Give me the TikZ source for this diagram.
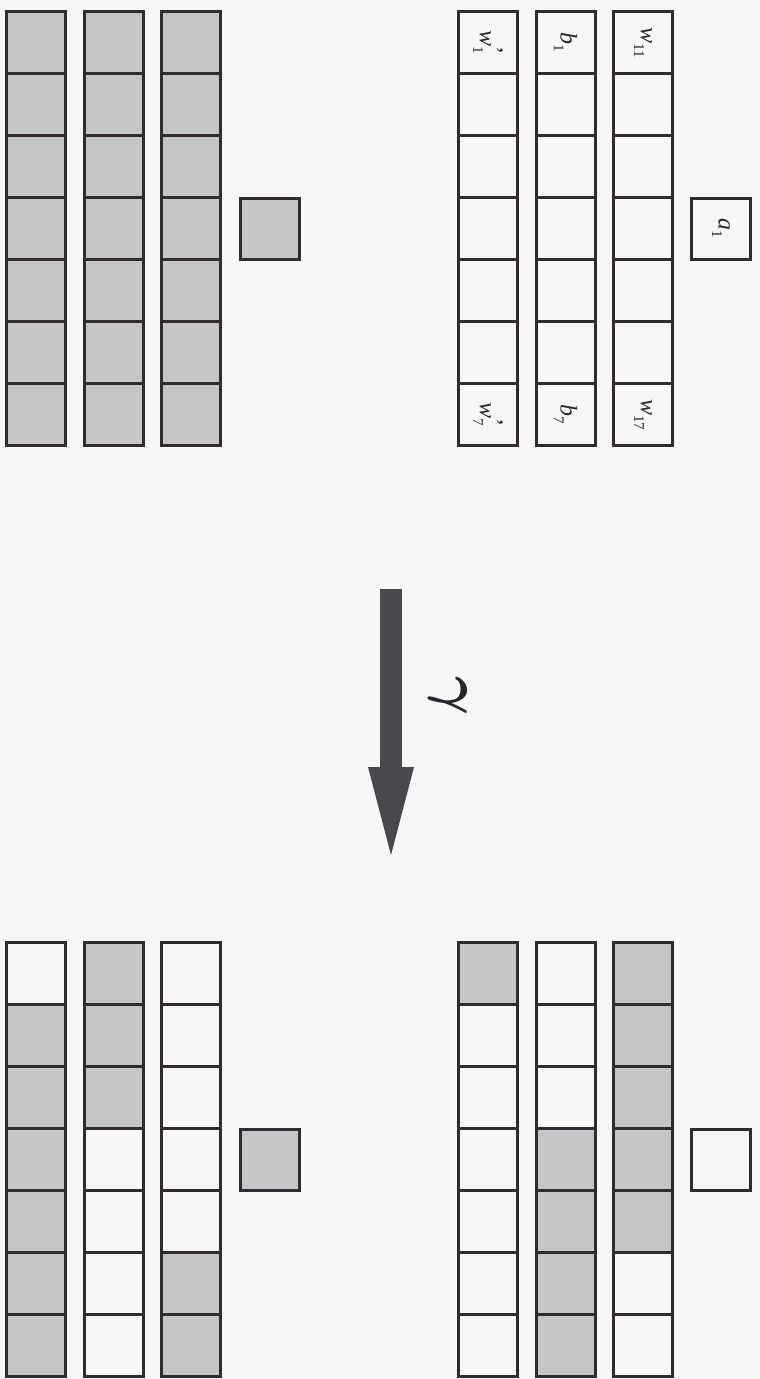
\documentclass[tikz,border=0pt]{standalone}
\usepackage{bm}
\usepackage{graphicx}
\usepackage{fontspec}
\setmainfont{Liberation Serif}
\usetikzlibrary{arrows.meta}
\definecolor{bg}{RGB}{248,246,247}
\definecolor{cellgray}{RGB}{197,196,199}
\definecolor{edge}{RGB}{48,44,48}
\definecolor{arrowgray}{RGB}{74,71,78}
\definecolor{ink}{RGB}{40,38,42}
\tikzset{
  cell/.style={draw=edge, line width=3pt, minimum width=59pt, minimum height=62pt, inner sep=0pt, outer sep=0pt},
  single/.style={draw=edge, line width=3pt, minimum width=59pt, minimum height=61pt, inner sep=0pt},
  lbl/.style={rotate=-90, font=\fontsize{24}{24}\selectfont\itshape, inner sep=0pt, text=ink},
  gam/.style={rotate=-90, inner sep=0pt, text=ink},
  arr/.style={line width=22pt, draw=arrowgray, -{Triangle[length=88pt,width=46pt,line width=0pt]}}
}
\def\patTL{{1,1,1,1,1,1,1, 1,1,1,1,1,1,1, 1,1,1,1,1,1,1}}
\def\patTR{{0,0,0,0,0,0,0, 0,0,0,0,0,0,0, 0,0,0,0,0,0,0}}
\def\patBL{{0,1,1,1,1,1,1, 1,1,1,0,0,0,0, 0,0,0,0,0,1,1}}
\def\patBR{{1,0,0,0,0,0,0, 0,0,0,1,1,1,1, 1,1,1,1,1,0,0}}
\newcommand\cellgroup[4]{%
  \foreach \c in {1,2,3}{%
    \foreach \r in {1,...,7}{%
      \pgfmathtruncatemacro\f{#4[(\c-1)*7+\r-1]}%
      \ifnum\f=1 \def\fc{cellgray}\else\def\fc{bg}\fi
      \node[cell, fill=\fc] (#1-\c-\r) at ({#2+(\c-1)*77.5},{#3+(\r-0.5)*62}) {};
    }}}
\newcommand\lowsub[1]{\raisebox{-0.28em}{\fontsize{15}{15}\selectfont\upshape #1}}
\newcommand\primed[1]{\rlap{\raisebox{0.3em}{\upshape ’}}\lowsub{#1}}
\begin{document}
\begin{tikzpicture}[x=1pt,y=-1pt]
\fill[bg] (0,0) rectangle (760,1379);
\useasboundingbox (0,0) rectangle (760,1379);
% top left
\cellgroup{TL}{36}{11.5}{\patTL}
\node[single, fill=cellgray] (TLs) at (270,228.5) {};
% top right
\cellgroup{TR}{488}{11.5}{\patTR}
\node[single, fill=bg] (TRs) at (721,228.5) {};
% bottom left
\cellgroup{BL}{36}{942.5}{\patBL}
\node[single, fill=cellgray] (BLs) at (270,1159.5) {};
% bottom right
\cellgroup{BR}{488}{942.5}{\patBR}
\node[single, fill=bg] (BRs) at (721,1159.5) {};
% labels
\node[lbl] (Lw1) at (TR-1-1) {w\primed{1}};
\node[lbl] (Lw7) at (TR-1-7) {w\primed{7}};
\node[lbl] (Lb1) at (TR-2-1) {b\lowsub{1}};
\node[lbl] (Lb7) at (TR-2-7) {b\lowsub{7}};
\node[lbl] (Lw11) at (TR-3-1) {w\lowsub{11}};
\node[lbl] (Lw17) at (TR-3-7) {w\lowsub{17}};
\node[lbl] (La1) at (TRs) {a\lowsub{1}};
% arrow
\coordinate (arrS) at (391,589);
\coordinate (arrE) at (391,855);
\draw[arr] (arrS) -- (arrE);
\node[gam] (gamma) at (448,696) {\scalebox{6}{$\bm{\gamma}$}};
\end{tikzpicture}
\end{document}
